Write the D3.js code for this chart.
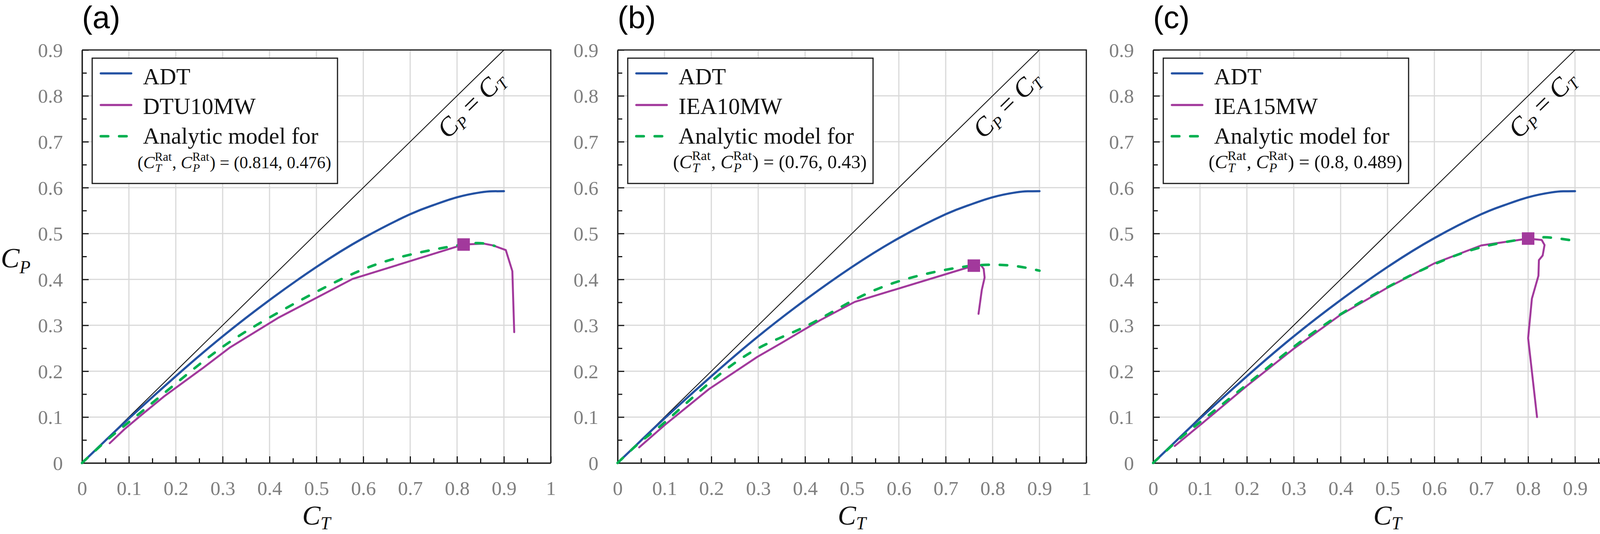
<!DOCTYPE html>
<html>
<head>
<meta charset="utf-8">
<script src="https://cdn.jsdelivr.net/npm/d3@7"></script>
<style>
  body { margin: 0; background: #fff; }
  svg { display: block; background: #fff; }
</style>
</head>
<body>
<div id="chart"></div>
<script>
// ---- values ----
const ctTicks = [0, 0.1, 0.2, 0.3, 0.4, 0.5, 0.6, 0.7, 0.8, 0.9, 1];
const ctTickLabels = ["0", "0.1", "0.2", "0.3", "0.4", "0.5", "0.6", "0.7", "0.8", "0.9", "1"];
const ctMinor = [0.05, 0.15, 0.25, 0.35, 0.45, 0.55, 0.65, 0.75, 0.85, 0.95];
const cpTicks = [0, 0.1, 0.2, 0.3, 0.4, 0.5, 0.6, 0.7, 0.8, 0.9];
const cpTickLabels = ["0", "0.1", "0.2", "0.3", "0.4", "0.5", "0.6", "0.7", "0.8", "0.9"];
const cpMinor = [0.05, 0.15, 0.25, 0.35, 0.45, 0.55, 0.65, 0.75, 0.85];

const panelLetters = ["(a)", "(b)", "(c)"];
const turbineNames = ["DTU10MW", "IEA10MW", "IEA15MW"];
const ratedCT = [0.814, 0.76, 0.8];
const ratedCP = [0.476, 0.43, 0.489];
const ratedText = ["(0.814, 0.476)", "(0.76, 0.43)", "(0.8, 0.489)"];

// actuator disc theory (same in every panel)
const adtCT = [0, 0.05, 0.1, 0.2, 0.3, 0.4, 0.5, 0.6, 0.7, 0.75, 0.8, 0.85, 0.875, 0.9];
const adtCP = [0, 0.049, 0.097, 0.189, 0.276, 0.355, 0.427, 0.49, 0.542, 0.562, 0.579, 0.5896, 0.592, 0.5923];

// (a) DTU10MW
const dtu10CT = [0.059, 0.09, 0.126, 0.175, 0.258, 0.316, 0.418, 0.577, 0.814, 0.857, 0.877, 0.904, 0.918, 0.922];
const dtu10CP = [0.043, 0.073, 0.104, 0.145, 0.207, 0.252, 0.316, 0.401, 0.476, 0.478, 0.474, 0.464, 0.418, 0.285];
const modelA_CT = [0, 0.05, 0.1, 0.2, 0.3, 0.4, 0.5, 0.6, 0.7, 0.8, 0.85, 0.88];
const modelA_CP = [0, 0.047, 0.089, 0.173, 0.253, 0.317, 0.373, 0.422, 0.454, 0.474, 0.479, 0.473];

// (b) IEA10MW
const iea10CT = [0.046, 0.101, 0.195, 0.298, 0.349, 0.382, 0.432, 0.506, 0.76, 0.775, 0.781, 0.783, 0.777, 0.77];
const iea10CP = [0.034, 0.083, 0.161, 0.231, 0.261, 0.281, 0.311, 0.351, 0.43, 0.431, 0.423, 0.404, 0.377, 0.325];
const modelB_CT = [0, 0.05, 0.1, 0.2, 0.3, 0.4, 0.5, 0.6, 0.7, 0.76, 0.8, 0.85, 0.9];
const modelB_CP = [0, 0.047, 0.088, 0.178, 0.25, 0.297, 0.353, 0.396, 0.421, 0.43, 0.432, 0.429, 0.419];

// (c) IEA15MW
const iea15CT = [0.046, 0.103, 0.2, 0.3, 0.4, 0.5, 0.6, 0.7, 0.8, 0.829, 0.835, 0.831, 0.823, 0.822, 0.808, 0.8, 0.819];
const iea15CP = [0.037, 0.085, 0.168, 0.249, 0.323, 0.382, 0.435, 0.474, 0.489, 0.486, 0.475, 0.452, 0.442, 0.408, 0.358, 0.272, 0.1];
const modelC_CT = [0, 0.05, 0.1, 0.2, 0.3, 0.4, 0.5, 0.6, 0.7, 0.8, 0.85, 0.9];
const modelC_CP = [0, 0.047, 0.089, 0.171, 0.253, 0.324, 0.383, 0.433, 0.47, 0.489, 0.491, 0.484];

const zip = (xs, ys) => xs.map((v, i) => [v, ys[i]]);

const panels = [
    { turbine: zip(dtu10CT, dtu10CP), model: zip(modelA_CT, modelA_CP) },
    { turbine: zip(iea10CT, iea10CP), model: zip(modelB_CT, modelB_CP) },
    { turbine: zip(iea15CT, iea15CP), model: zip(modelC_CT, modelC_CP) }
].map((p, i) => ({
    ...p,
    letter: panelLetters[i],
    name: turbineNames[i],
    rated: [ratedCT[i], ratedCP[i]],
    ratedText: ratedText[i]
}));
const adt = zip(adtCT, adtCP);

// ---- layout ----
const width = 4160, height = 1368;
const plotW = 1200, plotH = 1058, plotTop = 128;
const lefts = [210, 1581, 2952];

const colors = { adt: "#2452a3", turbine: "#a2399c", model: "#00b050", grid: "#d9d9d9", tick: "#7f7f7f" };
const serif = "'Liberation Serif', 'Times New Roman', serif";
const sans = "'Liberation Sans', Arial, sans-serif";

const svg = d3.select("#chart").append("svg")
    .attr("width", width)
    .attr("height", height)
    .attr("viewBox", `0 0 ${width} ${height}`);

const x = d3.scaleLinear().domain([0, 1]).range([0, plotW]);
const y = d3.scaleLinear().domain([0, 0.9]).range([plotH, 0]);

const line = d3.line().x(d => x(d[0])).y(d => y(d[1]));
const smooth = d3.line().x(d => x(d[0])).y(d => y(d[1])).curve(d3.curveNatural);

// lays out a row of text pieces (stacked super/subscripts), then scales it to the wanted width
function mathRow(parent, x0, base, pieces, targetW) {
    const row = parent.append("g");
    let cx = 0;
    pieces.forEach(p => {
        if (p.sup) {
            const a = row.append("text").attr("x", cx).attr("y", -18)
                .style("font-size", "30px").text(p.sup);
            const b = row.append("text").attr("x", cx + 1).attr("y", 9)
                .style("font-size", "29px").style("font-style", "italic").text(p.sub);
            cx += Math.max(a.node().getComputedTextLength(), b.node().getComputedTextLength() + 1) + 1;
        } else {
            const t = row.append("text").attr("x", cx).attr("y", 0)
                .style("font-size", "42px")
                .style("font-style", p.italic ? "italic" : "normal")
                .attr("xml:space", "preserve")
                .text(p.t);
            cx += t.node().getComputedTextLength();
        }
    });
    const s = targetW / cx;
    row.attr("transform", `translate(${x0},${base}) scale(${s})`);
}

panels.forEach((p, pi) => {
    const g = svg.append("g").attr("transform", `translate(${lefts[pi]},${plotTop})`);

    // gridlines
    g.append("g").selectAll("line")
        .data(ctTicks.slice(1))
        .join("line")
        .attr("x1", d => x(d)).attr("x2", d => x(d))
        .attr("y1", 0).attr("y2", plotH)
        .style("stroke", colors.grid).style("stroke-width", 3);
    g.append("g").selectAll("line")
        .data(cpTicks.slice(1))
        .join("line")
        .attr("x1", 0).attr("x2", plotW)
        .attr("y1", d => y(d)).attr("y2", d => y(d))
        .style("stroke", colors.grid).style("stroke-width", 3);

    // frame top + right
    g.append("path")
        .attr("d", `M0,${y(0.9)}H${x(1)}V${y(0)}`)
        .style("fill", "none").style("stroke", "#1a1a1a").style("stroke-width", 3);

    // minor ticks (inside)
    g.append("g").attr("transform", `translate(0,${plotH})`)
        .call(d3.axisBottom(x).tickValues(ctMinor).tickSize(-12).tickSizeOuter(0).tickFormat(""))
        .call(a => a.select(".domain").remove());
    g.append("g")
        .call(d3.axisLeft(y).tickValues(cpMinor).tickSize(-12).tickSizeOuter(0).tickFormat(""))
        .call(a => a.select(".domain").remove());

    // major ticks + labels
    const xAxis = g.append("g").attr("transform", `translate(0,${plotH})`)
        .call(d3.axisBottom(x).tickValues(ctTicks).tickSize(-17).tickSizeOuter(0)
            .tickPadding(46).tickFormat((d, i) => ctTickLabels[i]));
    const yAxis = g.append("g")
        .call(d3.axisLeft(y).tickValues(cpTicks).tickSize(-17).tickSizeOuter(0)
            .tickPadding(49).tickFormat((d, i) => cpTickLabels[i]));

    g.selectAll(".tick line").style("stroke", "#1a1a1a").style("stroke-width", 3);
    [xAxis, yAxis].forEach(a => {
        a.select(".domain").style("stroke", "#1a1a1a").style("stroke-width", 3.5);
        a.selectAll("text")
            .style("font-family", serif)
            .style("font-size", "51px")
            .style("fill", colors.tick);
    });
    yAxis.selectAll("text").attr("dy", "0.34em");

    // C_P = C_T diagonal
    g.append("line")
        .attr("x1", x(0)).attr("y1", y(0))
        .attr("x2", x(0.9)).attr("y2", y(0.9))
        .style("stroke", "#111").style("stroke-width", 2.2);

    const angle = Math.atan2(y(0) - y(0.1), x(0.1) - x(0)) * 180 / Math.PI;
    const diag = g.append("text")
        .attr("transform", `translate(${x(0.84)},${y(0.771)}) rotate(${-angle})`)
        .attr("text-anchor", "middle")
        .attr("dy", "0.35em")
        .style("font-family", serif)
        .style("fill", "#111");
    diag.append("tspan").style("font-size", "68px").style("font-style", "italic").text("C");
    diag.append("tspan").style("font-size", "42px").style("font-style", "italic").attr("dy", 10).text("P");
    diag.append("tspan").style("font-size", "68px").attr("dy", -10).attr("xml:space", "preserve").text(" = ");
    diag.append("tspan").style("font-size", "68px").style("font-style", "italic").text("C");
    diag.append("tspan").style("font-size", "42px").style("font-style", "italic").attr("dy", 10).text("T");

    // curves
    g.append("path").datum(adt)
        .attr("d", smooth)
        .style("fill", "none").style("stroke", colors.adt)
        .style("stroke-width", 5.5).style("stroke-linecap", "round");

    g.append("path").datum(p.turbine)
        .attr("d", line)
        .style("fill", "none").style("stroke", colors.turbine)
        .style("stroke-width", 5).style("stroke-linecap", "round").style("stroke-linejoin", "round");

    g.append("path").datum(p.model)
        .attr("d", smooth)
        .style("fill", "none").style("stroke", colors.model)
        .style("stroke-width", 6.5).style("stroke-linecap", "round")
        .style("stroke-dasharray", "19,28");

    // rated point marker
    g.append("rect")
        .attr("x", x(p.rated[0]) - 16).attr("y", y(p.rated[1]) - 16)
        .attr("width", 32).attr("height", 32)
        .style("fill", colors.turbine);

    // legend
    const lg = g.append("g").attr("transform", "translate(26,21)")
        .style("font-family", serif).style("fill", "#111");
    lg.append("rect")
        .attr("width", 628).attr("height", 321)
        .style("fill", "#fff").style("stroke", "#1a1a1a").style("stroke-width", 3);

    const items = [
        { label: "ADT", color: colors.adt, dash: null, ly: 39, ty: 66.5 },
        { label: p.name, color: colors.turbine, dash: null, ly: 120, ty: 143 },
        { label: "Analytic model for", color: colors.model, dash: "19,28", ly: 200, ty: 218.5 }
    ];
    items.forEach(it => {
        lg.append("line")
            .attr("x1", 22).attr("x2", 100).attr("y1", it.ly).attr("y2", it.ly)
            .style("stroke", it.color).style("stroke-width", it.dash ? 6.5 : 5.5)
            .style("stroke-linecap", "round")
            .style("stroke-dasharray", it.dash);
        lg.append("text")
            .attr("x", 130).attr("y", it.ty)
            .style("font-size", "59px")
            .text(it.label);
    });

    mathRow(lg, 116, 281.5, [
        { t: "(" },
        { t: "C", italic: true },
        { sup: "Rat", sub: "T" },
        { t: ", " },
        { t: "C", italic: true },
        { sup: "Rat", sub: "P" },
        { t: ") = " + p.ratedText }
    ], 496);

    // panel letter
    g.append("text")
        .attr("x", 0).attr("y", -56)
        .style("font-family", sans).style("font-size", "80px").style("fill", "#000")
        .text(p.letter);

    // x axis title
    const xt = g.append("text")
        .attr("x", plotW / 2).attr("y", plotH + 158)
        .attr("text-anchor", "middle")
        .style("font-family", serif).style("fill", "#111");
    xt.append("tspan").style("font-size", "70px").style("font-style", "italic").text("C");
    xt.append("tspan").style("font-size", "46px").style("font-style", "italic").attr("dy", 12).text("T");

    // y axis title only on first panel
    if (pi === 0) {
        const yt = g.append("text")
            .attr("x", -208).attr("y", 685 - plotTop)
            .style("font-family", serif).style("fill", "#111");
        yt.append("tspan").style("font-size", "72px").style("font-style", "italic").text("C");
        yt.append("tspan").style("font-size", "46px").style("font-style", "italic").attr("dy", 15).text("P");
    }
});
</script>
</body>
</html>
